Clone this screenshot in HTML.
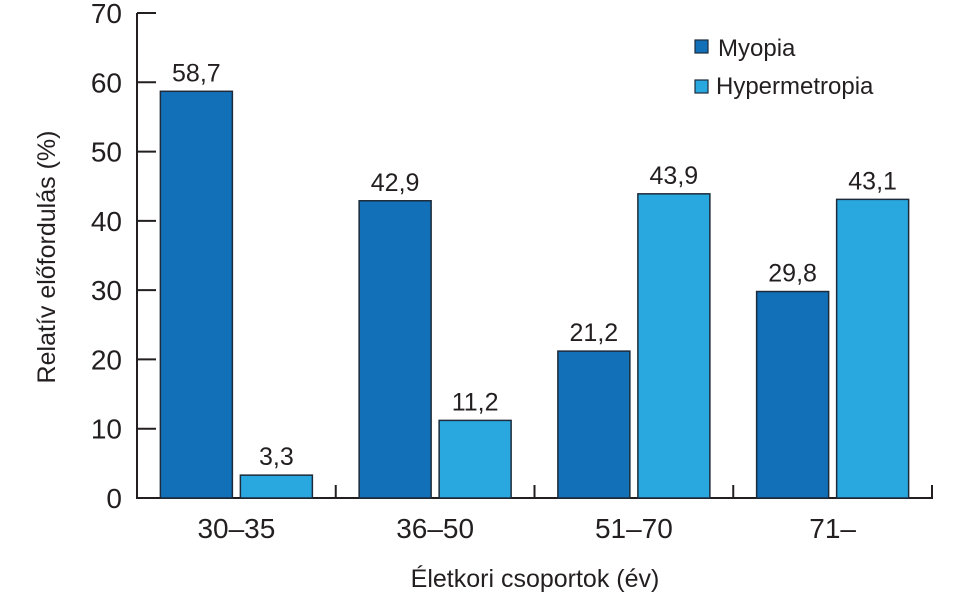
<!DOCTYPE html>
<html><head><meta charset="utf-8"><style>
html,body{margin:0;padding:0;background:#fff;}
svg{display:block;font-family:"Liberation Sans",sans-serif;fill:#231f20;}
</style></head><body>
<svg id="chart" width="962" height="597" viewBox="0 0 962 597" xmlns="http://www.w3.org/2000/svg">
<g id="axes"></g><g id="bars"></g>
<g>
<rect x="695" y="40" width="13" height="13" fill="#1170b8" stroke="#1d2b3a" stroke-width="1.2"/>
<text x="718" y="56" font-size="24">Myopia</text>
<rect x="695" y="80" width="13" height="13" fill="#29a8e0" stroke="#1d2b3a" stroke-width="1.2"/>
<text x="716" y="94" font-size="24">Hypermetropia</text>
</g>
<text x="535" y="587" font-size="25" text-anchor="middle">Életkori csoportok (év)</text>
<text transform="translate(55,257) rotate(-90)" font-size="25" text-anchor="middle">Relatív előfordulás (%)</text>
</svg>
<script>
const categories = ["30–35","36–50","51–70","71–"];
const myopia = [58.7,42.9,21.2,29.8];
const hyper = [3.3,11.2,43.9,43.1];
const yTicks = [0,10,20,30,40,50,60,70];
const NS="http://www.w3.org/2000/svg";
const x0=137,x1=932,y0=498,yTop=13,yMax=70;
const y=v=>y0-(v/yMax)*(y0-yTop);
const gw=(x1-x0)/categories.length;
const axes=document.getElementById('axes'),bars=document.getElementById('bars');
function mk(tag,attrs,parent,txt){const e=document.createElementNS(NS,tag);for(const k in attrs)e.setAttribute(k,attrs[k]);if(txt!==undefined)e.textContent=txt;parent.appendChild(e);return e;}
let a=mk('path',{d:`M${x0} ${yTop} V${y0} H${x1} V${y0-13}`,fill:'none',stroke:'#231f20','stroke-width':2},axes);


yTicks.forEach(t=>{
 const l=mk('line',{x1:x0,x2:x0+19,y1:y(t),y2:y(t),stroke:'#231f20','stroke-width':2},axes);
 
 
 const tx=mk('text',{x:122,y:y(t)+10,'font-size':28,'text-anchor':'end'},axes,String(t));
 
 
});
categories.forEach((c,i)=>{
 const gx=x0+gw*i, cx=gx+gw/2;
 if(i>0){const s=mk('line',{x1:gx,x2:gx,y1:y0,y2:y0-13,stroke:'#231f20','stroke-width':2},axes);
  
  }
 const lb=mk('text',{x:cx,y:538,'font-size':28,'text-anchor':'middle'},axes,c);
 
 
 [[myopia[i],'#1170b8',cx-76,'myopia'],[hyper[i],'#29a8e0',cx+4,'hypermetropia']].forEach(([v,col,bx,nm])=>{
  const r=mk('rect',{x:bx,y:y(v),width:72,height:y0-y(v),fill:col,stroke:'#1d2b3a','stroke-width':1.5},bars);
  
  
  const vt=mk('text',{x:bx+36,y:y(v)-10,'font-size':25,'text-anchor':'middle'},bars,String(v).replace('.',','));
  
  
 });
});
</script>
</body></html>
